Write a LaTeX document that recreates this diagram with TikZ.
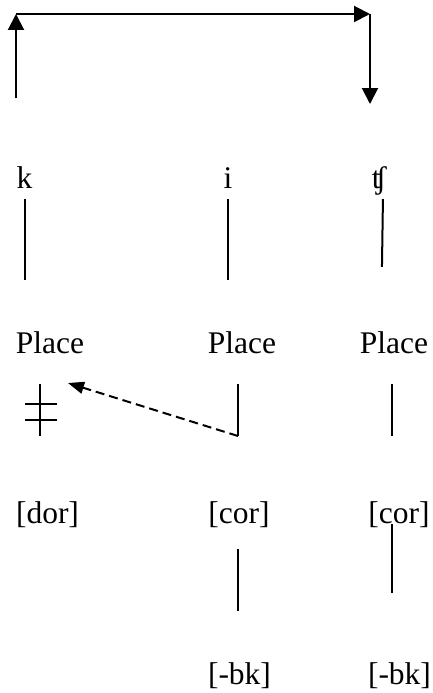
\documentclass[tikz,border=0pt]{standalone}
\usepackage{fontspec}
\setmainfont{Liberation Serif}
\usetikzlibrary{arrows.meta}

\begin{document}
\begin{tikzpicture}[x=1pt, y=-1pt,
    seg/.style={inner sep=0pt, anchor=base, text height=21pt, text depth=7pt,
                font=\fontsize{31.5}{37}\selectfont},
    assoc/.style={line width=2pt},
    hop/.style={line width=2pt, -{Triangle[length=16pt,width=16pt]}},
    spread/.style={line width=2pt, dash pattern=on 9pt off 5pt,
                   -{Triangle[length=16pt,width=12pt]}}
  ]
    \useasboundingbox (0,0) rectangle (433,693);

    % Segments
    \node[seg] (k)   at (24.5,188) {k};
    \node[seg] (i)   at (228,188)  {i};
    \node[seg] (tsh) at (379,188)  {ʧ};

    % Place nodes
    \node[seg] (pl1) at (50,353.5)  {Place};
    \node[seg] (pl2) at (242,353.5) {Place};
    \node[seg] (pl3) at (394,353.5) {Place};

    % Place features
    \node[seg] (dor)  at (47.5,523) {[dor]};
    \node[seg] (cor2) at (239,523)  {[cor]};
    \node[seg] (cor3) at (399,523)  {[cor]};

    % Dependents
    \node[seg] (bk2) at (239.5,684) {[-bk]};
    \node[seg] (bk3) at (399.5,684) {[-bk]};

    % Metathesis arrows
    \coordinate (m1) at (16,98);
    \coordinate (m2) at (16,14);
    \coordinate (m3) at (370,14);
    \coordinate (m4) at (370,104);
    \draw[hop] (m1) -- (m2);
    \draw[hop] (m2) -- (m3);
    \draw[hop] (m3) -- (m4);

    % Segment to Place
    \draw[assoc, shorten <=4pt, shorten >=52.5pt] (k.south) -- (k.south |- pl1.north);
    \draw[assoc, shorten <=4pt, shorten >=52.5pt] (i.south) -- (i.south |- pl2.north);
    \draw[assoc, shorten <=4pt, shorten >=65.5pt]
      ([xshift=4pt]tsh.south) -- ([xshift=2pt]tsh.south |- pl3.north);

    % Place to features
    \draw[assoc, shorten <=23.5pt, shorten >=66pt]
      ([xshift=-10pt]pl1.south) -- ([xshift=-10pt]pl1.south |- dor.north);
    \draw[assoc, shorten <=23.5pt, shorten >=66pt]
      ([xshift=-4pt]pl2.south) -- ([xshift=-4pt]pl2.south |- cor2.north);
    \draw[assoc, shorten <=23.5pt, shorten >=66pt]
      ([xshift=-2pt]pl3.south) -- ([xshift=-2pt]pl3.south |- cor3.north);

    % Delinking marks
    \draw[assoc] (25,404) -- (57,404);
    \draw[assoc] (25,420) -- (57,420);

    % Spreading
    \coordinate (src) at (238,436);
    \coordinate (tgt) at (68,383);
    \draw[spread] (src) -- (tgt);

    % Features to [-bk]
    \draw[assoc, shorten <=19pt, shorten >=52pt]
      ([xshift=-1pt]cor2.south) -- ([xshift=-1pt]cor2.south |- bk2.north);
    \draw[assoc, shorten <=-6pt, shorten >=70pt]
      ([xshift=-7pt]cor3.south) -- ([xshift=-7pt]cor3.south |- bk3.north);
\end{tikzpicture}
\end{document}
